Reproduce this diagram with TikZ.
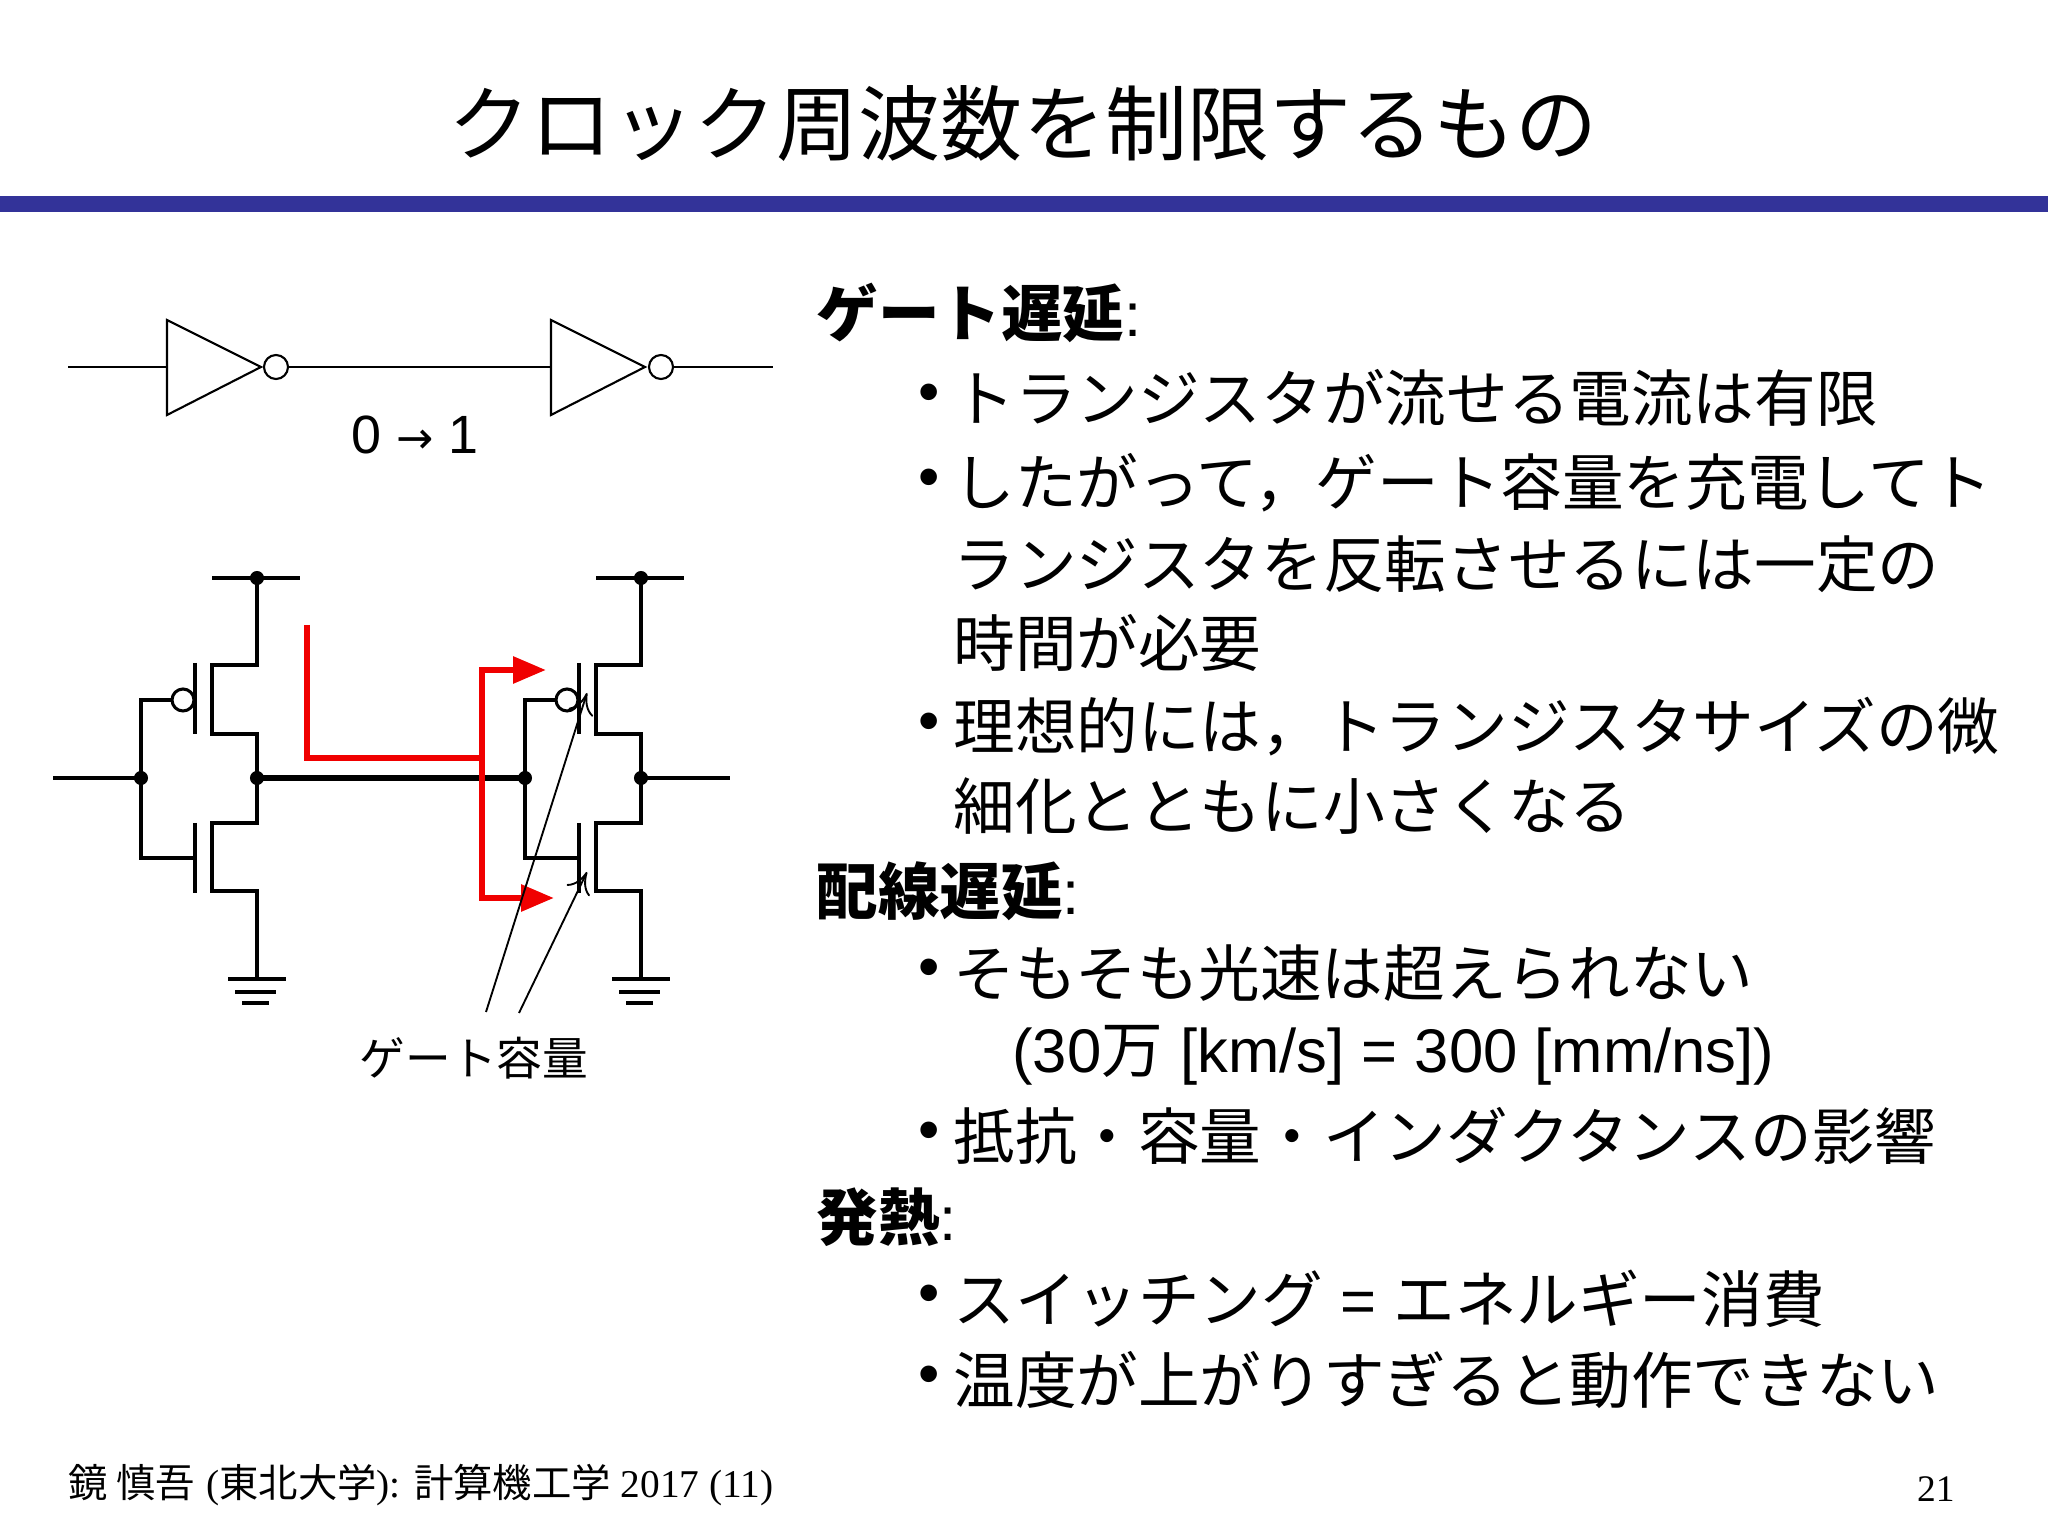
\documentclass[tikz,border=0pt]{standalone}
\usepackage{fontspec}
\setmainfont{Liberation Sans}
\newfontfamily\cjk{Noto Sans CJK JP}
\newfontfamily\serifj{Liberation Serif}
\newfontfamily\djv{DejaVu Sans}
\usetikzlibrary{arrows.meta}
\definecolor{barblue}{RGB}{51,51,153}
\definecolor{redline}{RGB}{240,0,0}
\begin{document}
\begin{tikzpicture}[x=0.015cm,y=-0.015cm,
  wire/.style={line width=1.3pt},
  thin wire/.style={line width=0.9pt},
  body/.style={anchor=west,inner sep=0pt,font=\fontsize{26.3}{30}\selectfont},
  bul/.style={anchor=west,inner sep=0pt,font=\fontsize{26}{30}\selectfont},
  dotn/.style={circle,fill,inner sep=0pt,minimum size=6pt}]
\useasboundingbox (0,0) rectangle (2048,1536);
\fill[white] (0,0) rectangle (2048,1536);
% title
\node (title) at (1023,124) {\cjk\fontsize{35}{40}\selectfont クロック周波数を制限するもの};
\fill[barblue] (0,196) rectangle (2048,212);
% inverters
\draw[thin wire] (68,367) -- (167,367);
\draw[thin wire] (167,320) -- (261,367) -- (167,415) -- cycle;
\draw[thin wire] (276,367) circle (12);
\draw[thin wire] (288,367) -- (551,367);
\draw[thin wire] (551,320) -- (645,367) -- (551,415) -- cycle;
\draw[thin wire] (661,367) circle (12);
\draw[thin wire] (673,367) -- (773,367);
\node (lbl01) at (415,435) {\fontsize{23}{26}\selectfont 0 {\djv\fontsize{19}{22}\selectfont →} 1};
% CMOS inverters
\foreach \o/\n in {0/a,384/b}{
 \begin{scope}[xshift=\o*0.015cm]
  \draw[wire] (212,578) -- (300,578);
  \node[dotn] (vdd\n) at (257,578) {};
  \draw[wire] (257,578) -- (257,665) -- (212,665) -- (212,734) -- (257,734) -- (257,823) -- (212,823) -- (212,891) -- (257,891) -- (257,979);
  \draw[wire] (195,663) -- (195,734);
  \draw[wire] (195,823) -- (195,893);
  \draw[wire] (183,700) circle (11);
  \draw[wire] (172,700) -- (141,700) -- (141,858) -- (195,858);
  \draw[wire] (228,979) -- (286,979);
  \draw[wire] (235,992) -- (276,992);
  \draw[wire] (242,1003) -- (269,1003);
  \node[dotn] (in\n) at (141,778) {};
  \node[dotn] (out\n) at (257,778) {};
 \end{scope}}
\draw[wire] (53,778) -- (ina.center);
\draw[line width=2.2pt] (outa.center) -- (inb.center);
\draw[wire] (outb.center) -- (730,778);
% red arrows
\coordinate (rs) at (307,625);
\coordinate (rj) at (482,758);
\coordinate (rt) at (546,670);
\coordinate (rb) at (554,898);
\draw[redline,line width=2.6pt] (rs) -- (307,758) -- (rj);
\draw[redline,line width=2.6pt,-{Triangle[length=14pt,width=11pt]}] (rj) |- (rt);
\draw[redline,line width=2.6pt,-{Triangle[length=14pt,width=11pt]}] (rj) |- (rb);
% gate capacitance pointers
\coordinate (p1) at (486,1012);
\coordinate (p2) at (519,1013);
\coordinate (c1) at (587,693);
\coordinate (c2) at (587,872);
\draw[line width=0.8pt,-{To[length=9pt,width=11pt]}] (p1) -- (c1);
\draw[line width=0.8pt,-{To[length=9pt,width=11pt]}] (p2) -- (c2);
\node (gc) at (474,1058) {\cjk\fontsize{19.5}{22}\selectfont ゲート容量};
% right text
\node[body] (h1) at (816,313) {{\cjk\bfseries ゲート遅延}:};
\foreach \y/\t [count=\i] in {398/トランジスタが流せる電流は有限,483/したがって，ゲート容量を充電してト,727/理想的には，トランジスタサイズの微,1136/抵抗・容量・インダクタンスの影響,1380/温度が上がりすぎると動作できない,973/そもそも光速は超えられない}{
  \node[bul] (b\i) at (918,\y) {•};
  \node[body] (t\i) at (953,\y) {\cjk \t};}
\node[bul] (b7) at (918,1299) {•};
\node[body] (t7) at (953,1299) {{\cjk スイッチング} = {\cjk エネルギー消費}};
\node[body] (l2) at (953,564) {\cjk ランジスタを反転させるには一定の};
\node[body] (l3) at (953,643) {\cjk 時間が必要};
\node[body] (l5) at (953,806) {\cjk 細化とともに小さくなる};
\node[body] (h2) at (816,891) {{\cjk\bfseries 配線遅延}:};
\node[body] (l7) at (1012,1055) {(30{\cjk 万} [km/s] = 300 [mm/ns])};
\node[body] (h3) at (816,1217) {{\cjk\bfseries 発熱}:};
% footer
\node[anchor=west,inner sep=0pt] (foot) at (68,1485) {\fontsize{16.8}{19}\selectfont{\cjk 鏡 慎吾} \serifj({\cjk 東北大学}): {\cjk 計算機工学} 2017 (11)};
\node[anchor=east,inner sep=0pt] (pg) at (1955,1489) {\serifj\fontsize{16}{18}\selectfont 21};
\end{tikzpicture}
\end{document}
